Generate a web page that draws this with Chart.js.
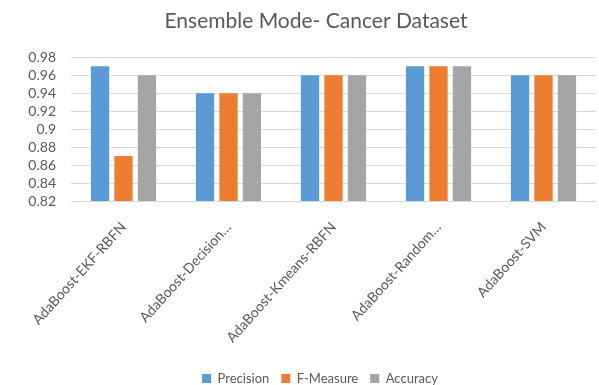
<!DOCTYPE html>
<html>
<head>
<meta charset="utf-8">
<script src="https://cdn.jsdelivr.net/npm/chart.js@4.4.0/dist/chart.umd.min.js"></script>
<style>
    html, body { margin: 0; padding: 0; background: #fff; }
    #wrap { width: 599px; height: 385px; }
</style>
</head>
<body>
<div id="wrap"><canvas id="ensembleChart" width="599" height="385"></canvas></div>
<script>
// datos
const categories = ['AdaBoost-EKF-RBFN', 'AdaBoost-Decision…', 'AdaBoost-Kmeans-RBFN', 'AdaBoost-Random…', 'AdaBoost-SVM'];
const precision = [0.97, 0.94, 0.96, 0.97, 0.96];
const fMeasure = [0.87, 0.94, 0.96, 0.97, 0.96];
const accuracy = [0.96, 0.94, 0.96, 0.97, 0.96];
const yTicks = [0.82, 0.84, 0.86, 0.88, 0.9, 0.92, 0.94, 0.96, 0.98];

const fontFam = "Lato, 'Open Sans', sans-serif";
const textGray = '#595959';

// Título y leyenda algo desplazados a la derecha, como en el original
const shiftBoxes = {
    id: 'shiftBoxes',
    afterLayout: function (chart) {
        const t = chart.titleBlock;
        t.left += 18; t.right += 18;
        const l = chart.legend;
        l.left += 22; l.right += 22;
        l.top += 10; l.bottom += 10;
    }
};

document.addEventListener("DOMContentLoaded", function () {
    const ctx = document.getElementById('ensembleChart').getContext('2d');

    function ds(label, data, color) {
        return {
            label: label,
            data: data,
            backgroundColor: color,
            borderWidth: 0,
            barPercentage: 0.78,
            categoryPercentage: 0.67
        };
    }

    new Chart(ctx, {
        type: 'bar',
        data: {
            labels: categories,
            datasets: [
                ds('Precision', precision, '#5B9BD5'),
                ds('F-Measure', fMeasure, '#ED7D31'),
                ds('Accuracy', accuracy, '#A5A5A5')
            ]
        },
        plugins: [shiftBoxes],
        options: {
            responsive: false,
            animation: false,
            layout: { padding: { top: 9, right: 3, left: 0, bottom: 0 } },
            scales: {
                y: {
                    min: 0.82,
                    max: 0.98,
                    afterBuildTicks: function (scale) {
                        scale.ticks = yTicks.map(v => ({ value: v }));
                    },
                    afterFit: function (scale) { scale.width = 71; },
                    border: { display: false },
                    grid: { color: '#D9D9D9', lineWidth: 1, drawTicks: false },
                    ticks: {
                        color: textGray,
                        padding: 15,
                        autoSkip: false,
                        font: { family: fontFam, size: 14 },
                        callback: function (v) { return String(parseFloat(v.toFixed(2))); }
                    }
                },
                x: {
                    afterFit: function (scale) { scale.height = 149; },
                    border: { display: true, color: '#D9D9D9' },
                    grid: { display: false },
                    ticks: {
                        color: textGray,
                        minRotation: 48,
                        maxRotation: 48,
                        autoSkip: false,
                        padding: 10,
                        font: { family: fontFam, size: 14 }
                    }
                }
            },
            plugins: {
                title: {
                    display: true,
                    text: 'Ensemble Mode- Cancer Dataset',
                    color: textGray,
                    font: { family: fontFam, size: 21, weight: 'normal' },
                    padding: { top: 0, bottom: 23 }
                },
                legend: {
                    display: true,
                    position: 'bottom',
                    labels: {
                        color: textGray,
                        boxWidth: 9,
                        boxHeight: 9,
                        padding: 12,
                        font: { family: fontFam, size: 13 },
                        generateLabels: function (chart) {
                            const items = Chart.defaults.plugins.legend.labels.generateLabels(chart);
                            items.forEach(it => { it.lineWidth = 0; });
                            return items;
                        }
                    }
                },
                tooltip: { enabled: false }
            }
        }
    });
});
</script>
</body>
</html>
